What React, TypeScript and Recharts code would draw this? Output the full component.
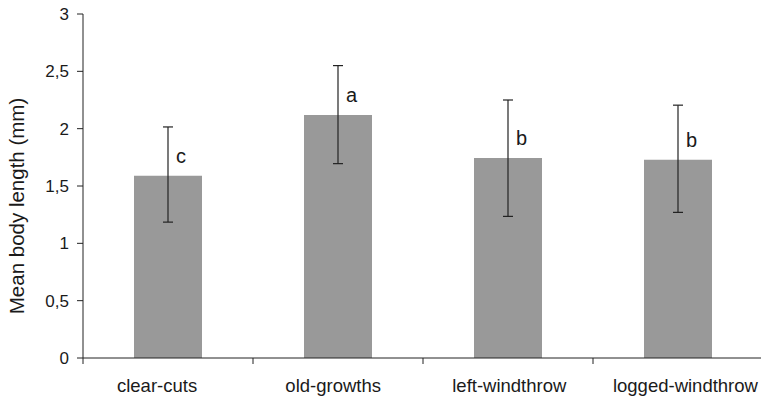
import React from "react";
import { BarChart, Bar, XAxis, YAxis, ErrorBar, LabelList } from "recharts";

const categories = ["clear-cuts", "old-growths", "left-windthrow", "logged-windthrow"];
const means = [1.59, 2.12, 1.745, 1.73];
const lowerBounds = [1.185, 1.695, 1.235, 1.27];
const upperBounds = [2.015, 2.55, 2.25, 2.205];
const letters = ["c", "a", "b", "b"];
const yTicks = [0, 0.5, 1, 1.5, 2, 2.5, 3];

const data = categories.map((name, i) => ({
  name,
  mean: means[i],
  err: [means[i] - lowerBounds[i], upperBounds[i] - means[i]],
  letter: letters[i],
}));

const FONT = "'Liberation Sans', Arial, Helvetica, sans-serif";
const AXIS = "#222";

const XTick = (props: any) => {
  const { x, y, payload } = props;
  const off = payload?.offset ?? 0;
  // labels are spread slightly wider than the category bands in the original
  const spread = (x - 423) * 0.036 - 1.75;
  return (
    <g>
      <line x1={x - off} x2={x - off} y1={y - 6} y2={y} stroke={AXIS} strokeWidth={1} />
      <text x={x + spread} y={y + 28} textAnchor="middle" fontFamily={FONT} fontSize={18.5} fill="#1a1a1a">
        {payload.value}
      </text>
    </g>
  );
};

const LetterLabel = (props: any) => {
  const { x, y, width, value } = props;
  return (
    <text x={x + width / 2 + 8} y={y - 13} fontFamily={FONT} fontSize={20} fill="#1a1a1a">
      {value}
    </text>
  );
};

export default function App() {
  return (
    <div style={{ position: "absolute", left: 0, top: 0, width: 761, height: 396, overflow: "hidden", background: "#fff" }}>
      <BarChart
        width={770}
        height={396}
        data={data}
        margin={{ top: 14, right: 7, bottom: 0, left: 0 }}
        barCategoryGap="30%"
      >
        <XAxis
          dataKey="name"
          height={38}
          tickSize={6}
          tickMargin={0}
          tickLine={false}
          axisLine={{ stroke: AXIS, strokeWidth: 1 }}
          tick={<XTick />}
          interval={0}
        />
        <YAxis
          width={83}
          domain={[0, 3]}
          ticks={yTicks}
          tickSize={6}
          tickMargin={8}
          axisLine={{ stroke: AXIS, strokeWidth: 1 }}
          tickLine={{ stroke: AXIS, strokeWidth: 1 }}
          tick={{ fontFamily: FONT, fontSize: 17, fill: "#1a1a1a" }}
          tickFormatter={(v: number) => String(v).replace(".", ",")}
          label={{
            content: () => (
              <text
                x={16.5}
                y={206}
                transform="rotate(-90 16.5 206)"
                textAnchor="middle"
                dominantBaseline="central"
                fontFamily={FONT}
                fontSize={20.5}
                fill="#1a1a1a"
              >
                Mean body length (mm)
              </text>
            ),
          }}
        />
        <Bar dataKey="mean" fill="#999999" isAnimationActive={false}>
          <ErrorBar dataKey="err" width={5} stroke="#222" strokeWidth={1.2} direction="y" />
          <LabelList dataKey="letter" content={<LetterLabel />} />
        </Bar>
      </BarChart>
    </div>
  );
}
